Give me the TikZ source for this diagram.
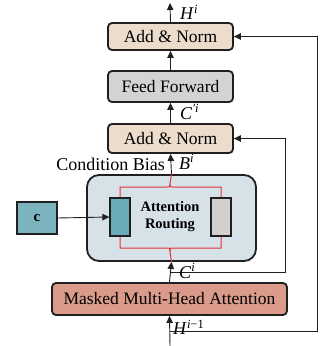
\documentclass[tikz,border=0pt]{standalone}
\usepackage{fontspec}
\setmainfont{Liberation Serif}
\usetikzlibrary{arrows.meta,positioning}
\definecolor{beige}{HTML}{EBDCCC}
\definecolor{ffgray}{HTML}{D3D3D3}
\definecolor{bigblue}{HTML}{D6E1E8}
\definecolor{tealc}{HTML}{7DB2BF}
\definecolor{tealin}{HTML}{6AABB8}
\definecolor{grayin}{HTML}{D2CFCF}
\definecolor{salmon}{HTML}{DB9B8B}
\definecolor{redbr}{HTML}{E5333B}
\definecolor{dark}{HTML}{202020}
\newcommand{\supi}[1]{\textsuperscript{\fontsize{12.5}{14}\selectfont #1}}
\begin{document}
\begin{tikzpicture}[x=1pt,y=-1pt,
  blk/.style={draw=dark,line width=1.8pt,rounded corners=4pt,inner sep=0pt,
    font=\fontsize{17.5}{20}\selectfont},
  sq/.style={draw=dark,line width=1.3pt,inner sep=0pt},
  conn/.style={draw=dark,line width=0.9pt},
  arr/.style={conn,-{Triangle[length=7pt,width=6.5pt]}},
  lbl/.style={anchor=west,inner sep=0pt,font=\fontsize{18}{20}\selectfont},
  redl/.style={draw=redbr,line width=1pt}]
\useasboundingbox (0,0) rectangle (320,346);
% blocks
\node[blk,fill=beige,minimum width=125pt,minimum height=27pt] (an2) at (170.5,36.5) {Add \& Norm};
\node[blk,fill=ffgray,minimum width=125pt,minimum height=31pt] (ff) at (170.5,86.5) {Feed Forward};
\node[blk,fill=beige,minimum width=125pt,minimum height=29pt] (an1) at (170.5,138.5) {Add \& Norm};
\node[blk,fill=bigblue,rounded corners=12pt,minimum width=169pt,minimum height=86pt] (big) at (171.5,218) {};
\node[blk,fill=salmon,minimum width=235pt,minimum height=32pt] (mmha) at (169.5,299) {Masked Multi-Head Attention};
\node[sq,fill=tealc,minimum width=40pt,minimum height=32pt,font=\fontsize{15}{16}\selectfont\bfseries] (c) at (37,218) {c};
\node[sq,fill=tealin,minimum width=20pt,minimum height=38pt] (teal) at (120,217) {};
\node[sq,fill=grayin,minimum width=20pt,minimum height=38pt] (gray) at (221,217) {};
\node[align=center,inner sep=0pt,font=\fontsize{14.5}{17}\selectfont\bfseries] (ar) at (170,216.5) {Attention\\Routing};
% coordinates
\coordinate (bot) at (170,346);
\coordinate (top) at (170,3);
\coordinate (cj) at (170,272);
\coordinate (cr) at (285,272);
\coordinate (hj) at (170,331);
\coordinate (hr) at (317,331);
% red brackets
\path[redl] (teal.north) |- (166.5,187) .. controls (170,187) .. (170,183.5) -- (big.north);
\path[redl] (gray.north) |- (173.5,187) .. controls (170,187) .. (170,183.5);
\path[redl] (teal.south) |- (166.5,248) .. controls (170,248) .. (170,251.5) -- (big.south);
\path[redl] (gray.south) |- (173.5,248) .. controls (170,248) .. (170,251.5);
% main arrows
\path[arr] (bot) -- (mmha.south);
\path[arr] (mmha.north) -- (big.south);
\path[arr] (big.north) -- (an1.south);
\path[arr] (an1.north) -- (ff.south);
\path[arr] (ff.north) -- (an2.south);
\path[arr] (an2.north) -- (top);
\path[arr] (cj) -- (cr) |- (an1.east);
\path[arr] (hj) -- (hr) |- (an2.east);
\path[arr] (c.east) -- (teal.west);
% labels
\node[lbl] (lh) at (180,12) {\textit{H}\supi{\textit{i}}};
\node[lbl] (lcp) at (180,112) {\textit{C}\supi{\textit{\char"2032 i}}};
\node[lbl] (lb) at (179,162) {\textit{B}\supi{\textit{i}}};
\node[lbl,anchor=east] (lcb) at (165,164) {Condition Bias};
\node[lbl] (lc) at (179,271) {\textit{C}\supi{\textit{i}}};
\node[lbl] (lhm) at (173,327) {\textit{H}\supi{\textit{i}\char"2212 1}};
\end{tikzpicture}
\end{document}
